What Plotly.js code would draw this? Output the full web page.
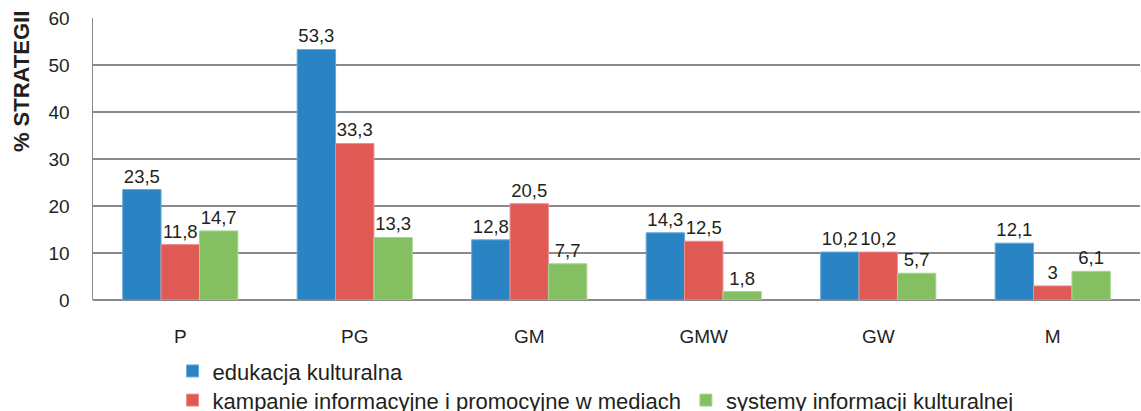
<!DOCTYPE html>
<html>
<head>
<meta charset="utf-8">
<script src="https://cdn.plot.ly/plotly-3.0.1.min.js"></script>
<style>html,body{margin:0;padding:0;background:#fff}#chart{width:1141px;height:411px}</style>
</head>
<body>
<div id="chart"></div>
<script>
const categories = ["P", "PG", "GM", "GMW", "GW", "M"];
const seriesNames = ["edukacja kulturalna", "kampanie informacyjne i promocyjne w mediach", "systemy informacji kulturalnej"];
const edukacja = [23.5, 53.3, 12.8, 14.3, 10.2, 12.1];
const kampanie = [11.8, 33.3, 20.5, 12.5, 10.2, 3];
const systemy = [14.7, 13.3, 7.7, 1.8, 5.7, 6.1];
const yTicks = [0, 10, 20, 30, 40, 50, 60];

const colors = ["#2a84c4", "#e05a55", "#84c062"];
const edges = ["#6aa9d8", "#ee8f8b", "#a9d58e"];
const fmt = v => String(v).replace(".", ",");
const baseFamily = "Liberation Sans, Arial, Helvetica, sans-serif";
const labelFont = {family: baseFamily, size: 18.5, color: "#231f20"};

const all = [edukacja, kampanie, systemy];
const traces = all.map((vals, i) => ({
  type: "bar",
  name: seriesNames[i],
  x: categories,
  y: vals,
  text: vals.map(fmt),
  textposition: "outside",
  cliponaxis: false,
  textfont: labelFont,
  marker: {color: colors[i], line: {color: edges[i], width: 1}},
  legend: i === 0 ? "legend" : "legend2",
  hoverinfo: "skip"
}));

const legendFont = {family: baseFamily, size: 22, color: "#231f20"};

const layout = {
  width: 1141, height: 411,
  margin: {l: 93, r: 1, t: 18, b: 111},
  paper_bgcolor: "#fff", plot_bgcolor: "#fff",
  barmode: "group",
  bargap: 0.34,
  bargroupgap: 0,
  showlegend: true,
  font: {family: baseFamily, color: "#231f20"},
  xaxis: {
    type: "category",
    showgrid: false,
    showline: false,
    zeroline: false,
    ticks: "",
    automargin: false,
    ticklabelstandoff: 23,
    tickfont: {family: baseFamily, size: 19, color: "#231f20"}
  },
  yaxis: {
    range: [0, 60],
    tickvals: yTicks,
    ticktext: yTicks.map(String),
    automargin: false,
    showgrid: true,
    gridcolor: "#8a8a8c",
    gridwidth: 1.5,
    zeroline: true,
    zerolinecolor: "#8a8a8c",
    zerolinewidth: 1.5,
    showline: true,
    linecolor: "#8a8a8c",
    linewidth: 1.5,
    ticks: "",
    ticklabelstandoff: 18,
    tickfont: {family: baseFamily, size: 19, color: "#231f20"}
  },
  legend: {
    orientation: "h",
    xref: "paper", yref: "container",
    x: 0.076, xanchor: "left",
    y: 0.097, yanchor: "middle",
    font: legendFont,
    bgcolor: "rgba(0,0,0,0)",
    tracegroupgap: 0
  },
  legend2: {
    orientation: "h",
    xref: "paper", yref: "container",
    x: 0.076, xanchor: "left",
    y: 0.026, yanchor: "middle",
    font: legendFont,
    bgcolor: "rgba(0,0,0,0)",
    tracegroupgap: 0
  },
  annotations: [{
    text: "<b>% STRATEGII</b>",
    textangle: -90,
    xref: "paper", yref: "paper",
    x: -0.0687, xanchor: "center",
    y: 1.03, yanchor: "top",
    showarrow: false,
    font: {family: baseFamily, size: 22, color: "#231f20"}
  }]
};

Plotly.newPlot("chart", traces, layout, {displayModeBar: false, staticPlot: true});
</script>
</body>
</html>
